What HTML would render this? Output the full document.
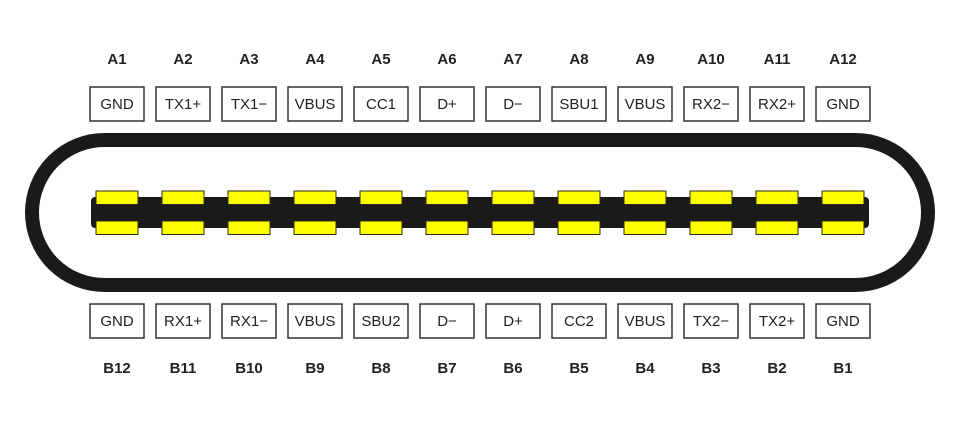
<!DOCTYPE html>
<html><head><meta charset="utf-8"><style>
html,body{margin:0;padding:0;background:#fff;}
svg{display:block}
text{font-family:"Liberation Sans",sans-serif;fill:#222}
</style></head><body>
<svg width="959" height="422" viewBox="0 0 959 422" xmlns="http://www.w3.org/2000/svg">
<rect x="32" y="140" width="896" height="145" rx="72.5" ry="72.5" fill="none" stroke="#1a1a1a" stroke-width="14"/>
<rect x="91" y="197" width="778" height="31" rx="4" fill="#1a1a1a"/>
<g id="pins" fill="#ffff00" stroke="#2a2a1a" stroke-width="1">
<rect x="96" y="191" width="42" height="13.5"/><rect x="96" y="221" width="42" height="13.5"/>
<rect x="162" y="191" width="42" height="13.5"/><rect x="162" y="221" width="42" height="13.5"/>
<rect x="228" y="191" width="42" height="13.5"/><rect x="228" y="221" width="42" height="13.5"/>
<rect x="294" y="191" width="42" height="13.5"/><rect x="294" y="221" width="42" height="13.5"/>
<rect x="360" y="191" width="42" height="13.5"/><rect x="360" y="221" width="42" height="13.5"/>
<rect x="426" y="191" width="42" height="13.5"/><rect x="426" y="221" width="42" height="13.5"/>
<rect x="492" y="191" width="42" height="13.5"/><rect x="492" y="221" width="42" height="13.5"/>
<rect x="558" y="191" width="42" height="13.5"/><rect x="558" y="221" width="42" height="13.5"/>
<rect x="624" y="191" width="42" height="13.5"/><rect x="624" y="221" width="42" height="13.5"/>
<rect x="690" y="191" width="42" height="13.5"/><rect x="690" y="221" width="42" height="13.5"/>
<rect x="756" y="191" width="42" height="13.5"/><rect x="756" y="221" width="42" height="13.5"/>
<rect x="822" y="191" width="42" height="13.5"/><rect x="822" y="221" width="42" height="13.5"/>
</g>
<g fill="#fff" stroke="#333" stroke-width="1.5">
<rect x="90" y="87" width="54" height="34"/><rect x="156" y="87" width="54" height="34"/><rect x="222" y="87" width="54" height="34"/><rect x="288" y="87" width="54" height="34"/><rect x="354" y="87" width="54" height="34"/><rect x="420" y="87" width="54" height="34"/><rect x="486" y="87" width="54" height="34"/><rect x="552" y="87" width="54" height="34"/><rect x="618" y="87" width="54" height="34"/><rect x="684" y="87" width="54" height="34"/><rect x="750" y="87" width="54" height="34"/><rect x="816" y="87" width="54" height="34"/>
<rect x="90" y="304" width="54" height="34"/><rect x="156" y="304" width="54" height="34"/><rect x="222" y="304" width="54" height="34"/><rect x="288" y="304" width="54" height="34"/><rect x="354" y="304" width="54" height="34"/><rect x="420" y="304" width="54" height="34"/><rect x="486" y="304" width="54" height="34"/><rect x="552" y="304" width="54" height="34"/><rect x="618" y="304" width="54" height="34"/><rect x="684" y="304" width="54" height="34"/><rect x="750" y="304" width="54" height="34"/><rect x="816" y="304" width="54" height="34"/>
</g>
<g text-anchor="middle" font-size="15" font-weight="bold">
<text x="117" y="64">A1</text><text x="183" y="64">A2</text><text x="249" y="64">A3</text><text x="315" y="64">A4</text><text x="381" y="64">A5</text><text x="447" y="64">A6</text><text x="513" y="64">A7</text><text x="579" y="64">A8</text><text x="645" y="64">A9</text><text x="711" y="64">A10</text><text x="777" y="64">A11</text><text x="843" y="64">A12</text>
<text x="117" y="373">B12</text><text x="183" y="373">B11</text><text x="249" y="373">B10</text><text x="315" y="373">B9</text><text x="381" y="373">B8</text><text x="447" y="373">B7</text><text x="513" y="373">B6</text><text x="579" y="373">B5</text><text x="645" y="373">B4</text><text x="711" y="373">B3</text><text x="777" y="373">B2</text><text x="843" y="373">B1</text>
</g>
<g text-anchor="middle" font-size="15">
<text x="117" y="109">GND</text><text x="183" y="109">TX1+</text><text x="249" y="109">TX1−</text><text x="315" y="109">VBUS</text><text x="381" y="109">CC1</text><text x="447" y="109">D+</text><text x="513" y="109">D−</text><text x="579" y="109">SBU1</text><text x="645" y="109">VBUS</text><text x="711" y="109">RX2−</text><text x="777" y="109">RX2+</text><text x="843" y="109">GND</text>
<text x="117" y="326">GND</text><text x="183" y="326">RX1+</text><text x="249" y="326">RX1−</text><text x="315" y="326">VBUS</text><text x="381" y="326">SBU2</text><text x="447" y="326">D−</text><text x="513" y="326">D+</text><text x="579" y="326">CC2</text><text x="645" y="326">VBUS</text><text x="711" y="326">TX2−</text><text x="777" y="326">TX2+</text><text x="843" y="326">GND</text>
</g>
</svg>
</body></html>
